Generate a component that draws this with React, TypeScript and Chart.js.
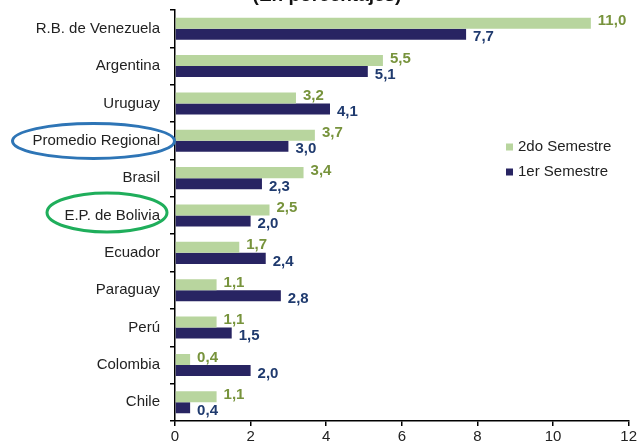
import React, { useEffect, useRef } from "react";
import { Chart, registerables } from "chart.js";

Chart.register(...registerables);

const categories = [
  "R.B. de Venezuela",
  "Argentina",
  "Uruguay",
  "Promedio Regional",
  "Brasil",
  "E.P. de Bolivia",
  "Ecuador",
  "Paraguay",
  "Perú",
  "Colombia",
  "Chile",
];
const segundoSemestre = [11.0, 5.5, 3.2, 3.7, 3.4, 2.5, 1.7, 1.1, 1.1, 0.4, 1.1];
const primerSemestre = [7.7, 5.1, 4.1, 3.0, 2.3, 2.0, 2.4, 2.8, 1.5, 2.0, 0.4];
const seriesNames = ["2do Semestre", "1er Semestre"];
const titleText = "(En porcentajes)";

const GREEN = "#B8D59E";
const NAVY = "#282462";
const GREEN_TXT = "#77933C";
const NAVY_TXT = "#1F3A6E";
const FONT = "'Liberation Sans', Arial, sans-serif";

const fmt = (v: number) => v.toFixed(1).replace(".", ",");

const overlayPlugin = {
  id: "overlay",
  afterDatasetsDraw(chart: any) {
    const ctx = chart.ctx;
    ctx.save();
    ctx.font = `bold 15px ${FONT}`;
    ctx.textAlign = "left";
    ctx.textBaseline = "middle";
    chart.data.datasets.forEach((ds: any, di: number) => {
      const meta = chart.getDatasetMeta(di);
      meta.data.forEach((el: any, i: number) => {
        ctx.fillStyle = di === 0 ? GREEN_TXT : NAVY_TXT;
        const dy = di === 0 ? -2 : 3;
        ctx.fillText(fmt(ds.data[i]), el.x + 7, el.y + dy);
      });
    });
    ctx.restore();
  },
  afterDraw(chart: any) {
    const ctx = chart.ctx;
    ctx.save();
    // title (cut at top)
    ctx.font = `bold 19px ${FONT}`;
    ctx.fillStyle = "#111";
    ctx.textAlign = "center";
    ctx.textBaseline = "alphabetic";
    ctx.fillText(titleText, 327, 1);

    // legend
    ctx.font = `15px ${FONT}`;
    ctx.textBaseline = "middle";
    ctx.textAlign = "left";
    const items = [
      { c: GREEN, t: seriesNames[0], y: 147 },
      { c: NAVY, t: seriesNames[1], y: 172 },
    ];
    items.forEach((it) => {
      ctx.fillStyle = it.c;
      ctx.fillRect(506, it.y - 3.5, 7, 7);
      ctx.fillStyle = "#222";
      ctx.fillText(it.t, 518, it.y);
    });

    // ellipses
    ctx.lineWidth = 3;
    ctx.strokeStyle = "#2E75B6";
    ctx.beginPath();
    ctx.ellipse(93.5, 141, 81, 17.5, 0, 0, Math.PI * 2);
    ctx.stroke();
    ctx.strokeStyle = "#1FAE5B";
    ctx.beginPath();
    ctx.ellipse(107, 212.5, 60, 19.5, 0, 0, Math.PI * 2);
    ctx.stroke();
    ctx.restore();
  },
};

export default function App() {
  const ref = useRef<HTMLCanvasElement | null>(null);
  useEffect(() => {
    document.body.style.margin = "0";
    if (!ref.current) return;
    const chart = new Chart(ref.current, {
      type: "bar",
      data: {
        labels: categories,
        datasets: [
          {
            label: seriesNames[0],
            data: segundoSemestre,
            backgroundColor: GREEN,
            categoryPercentage: 0.59,
            barPercentage: 1,
          },
          {
            label: seriesNames[1],
            data: primerSemestre,
            backgroundColor: NAVY,
            categoryPercentage: 0.59,
            barPercentage: 1,
          },
        ],
      },
      options: {
        indexAxis: "y",
        responsive: false,
        animation: false,
        layout: { padding: { left: 0, right: 10, top: 10, bottom: 0 } },
        plugins: {
          legend: { display: false },
          title: { display: false },
          tooltip: { enabled: false },
        },
        scales: {
          x: {
            min: 0,
            max: 12,
            ticks: {
              stepSize: 2,
              color: "#222",
              font: { family: FONT, size: 15 },
              padding: 2,
            },
            grid: {
              drawOnChartArea: false,
              drawTicks: true,
              tickLength: 5,
              color: "#000",
              lineWidth: 1.5,
            },
            border: { color: "#000", width: 1.5 },
            afterFit: (s: any) => {
              s.height = 25;
            },
          },
          y: {
            ticks: {
              color: "#222",
              font: { family: FONT, size: 15 },
              padding: 10,
            },
            grid: {
              drawOnChartArea: false,
              drawTicks: true,
              tickLength: 5,
              offset: true,
              color: "#000",
              lineWidth: 1.5,
            },
            border: { color: "#000", width: 1.5 },
            afterFit: (s: any) => {
              s.width = 175;
              s.paddingTop = 0;
              s.paddingBottom = 0;
            },
          },
        },
      },
      plugins: [overlayPlugin],
    } as any);
    return () => chart.destroy();
  }, []);
  return <canvas ref={ref} width={639} height={446} style={{ display: "block" }} />;
}
